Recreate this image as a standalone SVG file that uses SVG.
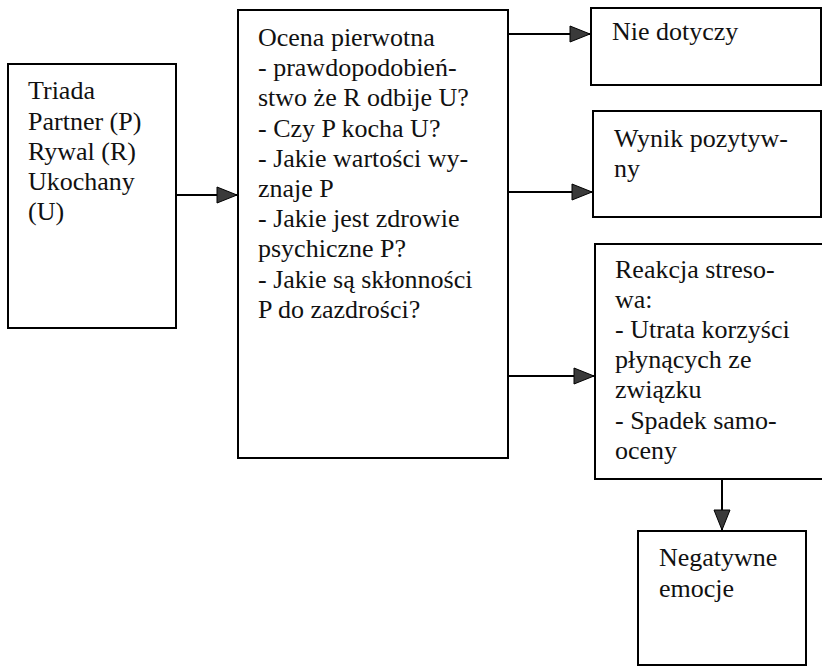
<svg xmlns="http://www.w3.org/2000/svg" width="822" height="667" viewBox="0 0 822 667">
  <style>
    .box { fill: #ffffff; stroke: #000000; stroke-width: 2; }
    .conn { stroke: #000000; stroke-width: 2; fill: none; }
  </style>
  <defs>
    <marker id="arrow" markerUnits="userSpaceOnUse" markerWidth="22" markerHeight="18" refX="20" refY="8" orient="auto" overflow="visible">
      <path d="M0,0 L20,8 L0,16 Z" fill="#3a3a3a" stroke="#000000" stroke-width="1"/>
    </marker>
  </defs>
  <rect width="822" height="667" fill="#ffffff"/>

  <g font-family="Liberation Serif, Times New Roman, DejaVu Serif, serif" font-size="26" fill="#111111">
  <g id="node-triada">
    <rect class="box" x="8" y="64" width="168" height="264"/>
    <text x="28" y="99">Triada</text>
    <text x="28" y="130">Partner (P)</text>
    <text x="28" y="160">Rywal (R)</text>
    <text x="28" y="190">Ukochany</text>
    <text x="28" y="220">(U)</text>
  </g>

  <g id="node-ocena">
    <rect class="box" x="238" y="10" width="270" height="448"/>
    <text x="258" y="46">Ocena pierwotna</text>
    <text x="258" y="76">- prawdopodobień-</text>
    <text x="258" y="106">stwo że R odbije U?</text>
    <text x="258" y="137">- Czy P kocha U?</text>
    <text x="258" y="167">- Jakie wartości wy-</text>
    <text x="258" y="197">znaje P</text>
    <text x="258" y="227">- Jakie jest zdrowie</text>
    <text x="258" y="257">psychiczne P?</text>
    <text x="258" y="288">- Jakie są skłonności</text>
    <text x="258" y="318">P do zazdrości?</text>
  </g>

  <g id="node-nie-dotyczy">
    <rect class="box" x="591" y="8" width="230" height="77"/>
    <text x="612" y="40">Nie dotyczy</text>
  </g>

  <g id="node-wynik">
    <rect class="box" x="593" y="111" width="228" height="106"/>
    <text x="614" y="147">Wynik pozytyw-</text>
    <text x="614" y="177">ny</text>
  </g>

  <g id="node-reakcja">
    <rect class="box" x="595" y="244" width="240" height="235"/>
    <text x="615" y="278">Reakcja streso-</text>
    <text x="615" y="308">wa:</text>
    <text x="615" y="338">- Utrata korzyści</text>
    <text x="615" y="368">płynących ze</text>
    <text x="615" y="398">związku</text>
    <text x="615" y="429">- Spadek samo-</text>
    <text x="615" y="459">oceny</text>
  </g>

  <g id="node-negatywne">
    <rect class="box" x="638" y="531" width="168" height="134"/>
    <text x="659" y="566">Negatywne</text>
    <text x="659" y="597">emocje</text>
  </g>
  </g>

  <g id="connectors">
    <line class="conn" x1="176" y1="195" x2="237" y2="195" marker-end="url(#arrow)"/>
    <line class="conn" x1="508" y1="34" x2="590" y2="34" marker-end="url(#arrow)"/>
    <line class="conn" x1="508" y1="192" x2="592" y2="192" marker-end="url(#arrow)"/>
    <line class="conn" x1="508" y1="376" x2="594" y2="376" marker-end="url(#arrow)"/>
    <line class="conn" x1="722" y1="479" x2="722" y2="530" marker-end="url(#arrow)"/>
  </g>
</svg>
